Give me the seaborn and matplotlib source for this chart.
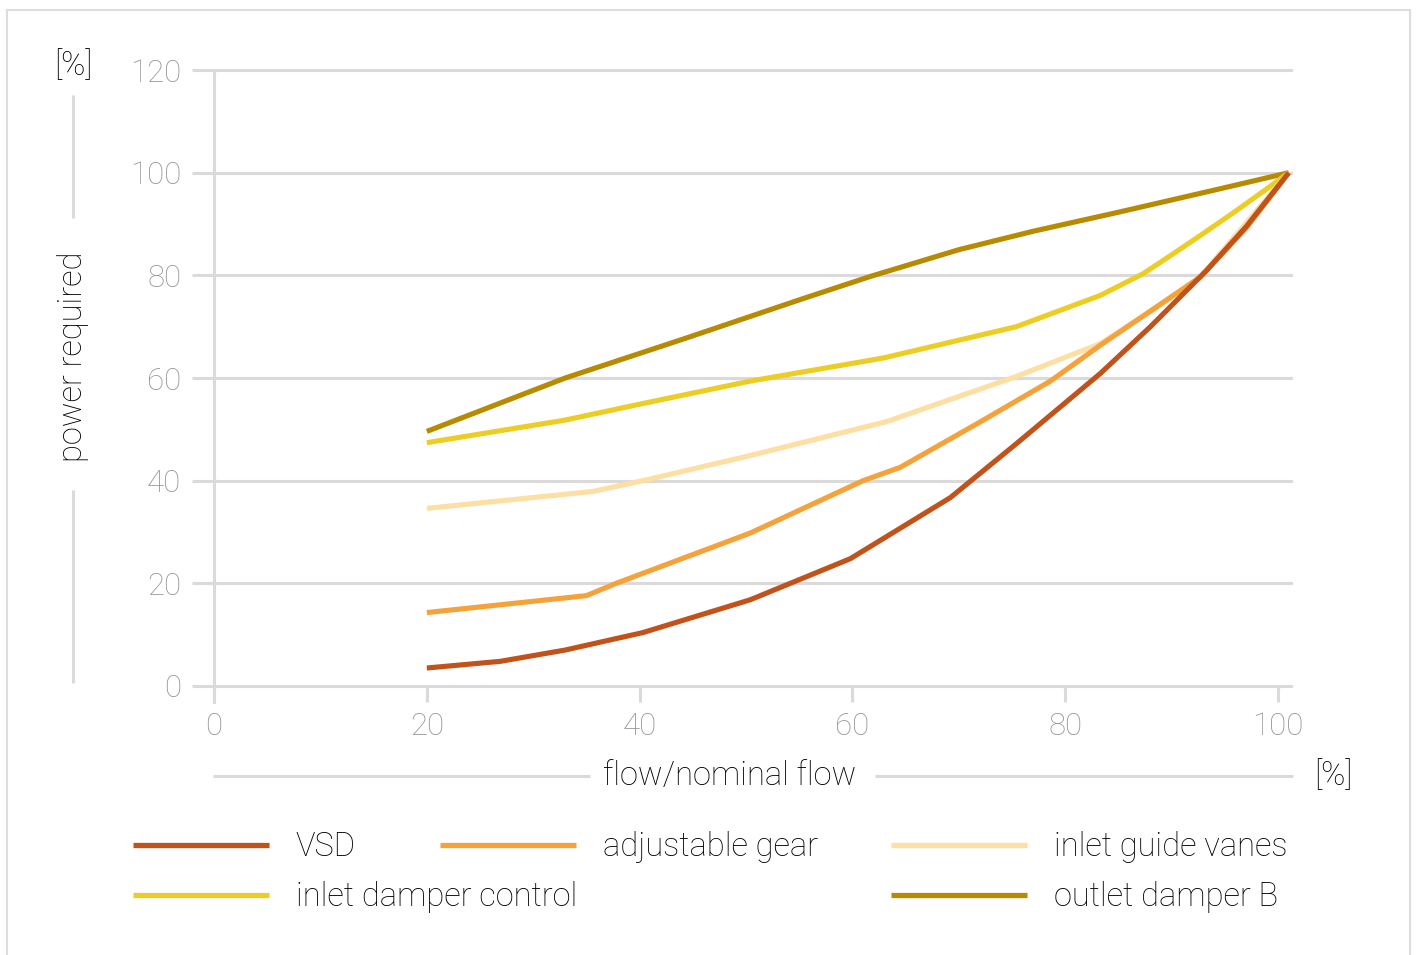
import numpy as np
import pandas as pd
import matplotlib
matplotlib.use('Agg')
import matplotlib.pyplot as plt
from matplotlib.lines import Line2D
from matplotlib.patches import Rectangle
import seaborn as sns

# ---- values (flow % -> power %)
vsd_x = [20, 26.9, 33, 40.3, 50.4, 59.8, 69.2, 75.4, 83.3, 88, 93.3, 97, 101]
vsd_y = [3.5, 4.8, 7.0, 10.4, 16.8, 24.8, 36.7, 47.2, 60.9, 70.0, 81.0, 89.5, 100]

gear_x = [20, 35, 37.8, 50.4, 61.0, 64.5, 72.3, 78.6, 83.3, 92.7, 97, 101]
gear_y = [14.3, 17.6, 20, 29.8, 40, 42.6, 51.8, 59.4, 66.4, 79.7, 89.2, 100]

vanes_x = [20, 35.6, 40.3, 50.4, 63.2, 75.4, 83.3, 89.5, 92.7, 101]
vanes_y = [34.6, 37.9, 40, 44.9, 51.5, 60.3, 66.7, 75.0, 79.7, 100]

inlet_x = [20, 33, 40, 50.4, 62.9, 75.4, 83.3, 87.3, 90, 93, 96, 98.9, 101]
inlet_y = [47.4, 51.8, 54.9, 59.4, 63.9, 70.0, 76.1, 80.3, 84.0, 88.2, 92.5, 96.8, 100]

outlet_x = [20, 33, 44.4, 55.4, 61.7, 70, 77, 85, 94.2, 101]
outlet_y = [49.6, 60, 67.8, 75.5, 79.8, 85.0, 88.6, 92.3, 96.7, 100]

names = ['VSD', 'adjustable gear', 'inlet guide vanes', 'inlet damper control', 'outlet damper B']
colors = ['#c1521a', '#f5a23a', '#fddfa4', '#edcd24', '#b88a00']
yticks = [0, 20, 40, 60, 80, 100, 120]
xticks = [0, 20, 40, 60, 80, 100]

frames = []
for n, xs, ys in zip(names,
                     [vsd_x, gear_x, vanes_x, inlet_x, outlet_x],
                     [vsd_y, gear_y, vanes_y, inlet_y, outlet_y]):
    frames.append(pd.DataFrame({'flow': xs, 'power': ys, 'series': n}))
df = pd.concat(frames, ignore_index=True)
pal = dict(zip(names, colors))

# ---- style
sns.set_theme(style='white')
plt.rcParams['font.family'] = ['Roboto', 'DejaVu Sans']
plt.rcParams['font.weight'] = 'light'
plt.rcParams['lines.solid_capstyle'] = 'butt'
plt.rcParams['lines.solid_joinstyle'] = 'round'

W, H = 1416, 955
fig = plt.figure(figsize=(W / 100, H / 100), dpi=100)
fig.patch.set_facecolor('white')

def fx(px):
    return px / W

def fy(py):
    return 1 - py / H

grid_c = '#dadada'
tick_c = '#949494'
txt_c = '#000000'
fs = 23.5

ax = fig.add_axes([fx(192), fy(702.4), fx(1293) - fx(192), fy(64.9) - fy(702.4)])
ax.set_facecolor('white')

sns.lineplot(data=df, x='flow', y='power', hue='series',
             hue_order=['outlet damper B', 'inlet damper control', 'inlet guide vanes',
                        'adjustable gear', 'VSD'],
             palette=pal, sort=False, estimator=None, legend=False,
             linewidth=3.7, ax=ax, zorder=3)

ax.set_xlim(-2.07, 101.4)
ax.set_ylim(-3.2, 121)
ax.set_xticks(xticks)
ax.set_yticks(yticks)
ax.yaxis.grid(True, color=grid_c, linewidth=2.2)
ax.xaxis.grid(False)
ax.set_axisbelow(True)

for s in ['top', 'right']:
    ax.spines[s].set_visible(False)
ax.spines['bottom'].set_position(('data', 0))
ax.spines['bottom'].set_visible(False)
ax.spines['left'].set_position(('data', 0))
ax.spines['left'].set_bounds(-3.1, 120)
ax.spines['left'].set_color(grid_c)
ax.spines['left'].set_linewidth(2.2)

ax.tick_params(axis='x', direction='out', length=11.5, width=2.2, color=grid_c,
               labelcolor=tick_c, labelsize=22.5, pad=7, bottom=True)
ax.tick_params(axis='y', length=0, labelcolor=tick_c, labelsize=22.5, pad=23.5)
ax.set_xlabel('')
ax.set_ylabel('')

# ---- axis titles with the grey rules beside them
fig.text(fx(730), fy(776), 'flow/nominal flow', ha='center', va='center',
         fontsize=fs, color=txt_c)
fig.text(fx(1333), fy(776), '[%]', ha='center', va='center', fontsize=fs, color=txt_c)
fig.add_artist(Line2D([fx(213), fx(590)], [fy(776), fy(776)], color=grid_c, lw=2.2))
fig.add_artist(Line2D([fx(875), fx(1293)], [fy(776), fy(776)], color=grid_c, lw=2.2))

fig.text(fx(73), fy(357), 'power required', ha='center', va='center', rotation=90,
         fontsize=fs, color=txt_c)
fig.text(fx(73), fy(66), '[%]', ha='center', va='center', fontsize=fs, color=txt_c)
fig.add_artist(Line2D([fx(73), fx(73)], [fy(95), fy(218)], color=grid_c, lw=2.2))
fig.add_artist(Line2D([fx(73), fx(73)], [fy(490), fy(683)], color=grid_c, lw=2.2))

# ---- legend, three fixed columns
def col_legend(labels, x0):
    hs = [Line2D([0], [0], color=pal[l], lw=3.8) for l in labels]
    lg = fig.legend(hs, labels, loc='upper left', bbox_to_anchor=(fx(x0), fy(831)),
                    frameon=False, fontsize=fs, handlelength=4.18, handletextpad=0.8,
                    labelspacing=0.55, borderpad=0, borderaxespad=0)
    for t in lg.get_texts():
        t.set_color(txt_c)
    return lg

col_legend(['VSD', 'inlet damper control'], 133)
col_legend(['adjustable gear'], 440)
col_legend(['inlet guide vanes', 'outlet damper B'], 891)

# ---- light frame around the whole chart
fig.add_artist(Rectangle((fx(7), -0.05), fx(1410) - fx(7), fy(10) + 0.05,
                         transform=fig.transFigure, fill=False,
                         edgecolor='#dddddd', lw=1.5))

fig.savefig('out.png', dpi=100, facecolor='white')
